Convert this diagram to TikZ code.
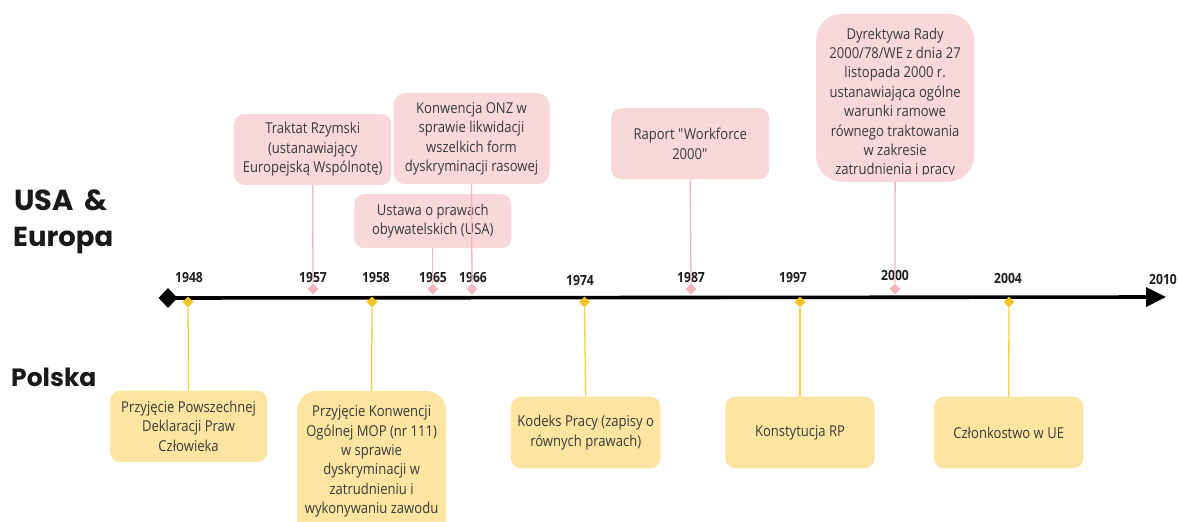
\documentclass[tikz,border=0pt]{standalone}
\usepackage{fontspec}
\setmainfont{Open Sans}[FakeStretch=0.87]
\newfontfamily\headfont{Poppins}
\usetikzlibrary{arrows.meta,shapes.geometric}

\definecolor{pinkfill}{RGB}{248,216,219}
\definecolor{pinkline}{RGB}{242,182,192}
\definecolor{yellowfill}{RGB}{251,229,160}
\definecolor{yellowline}{RGB}{246,208,72}
\definecolor{yellowmark}{RGB}{246,196,40}
\definecolor{boxtext}{RGB}{58,58,58}
\definecolor{yeartext}{RGB}{30,30,30}

\tikzset{
  x=1pt, y=-1pt,
  eventbox/.style={rounded corners=10pt, inner sep=0pt, align=center,
    text=boxtext, font=\fontsize{15}{19.4}\selectfont},
  eubox/.style={eventbox, fill=pinkfill},
  plbox/.style={eventbox, fill=yellowfill},
  eumark/.style={diamond, fill=pinkline, inner sep=0pt, minimum size=11pt},
  plmark/.style={diamond, fill=yellowmark, inner sep=0pt, minimum size=11pt},
  eulink/.style={draw=pinkline, line width=1.3pt},
  pllink/.style={draw=yellowline, line width=1.3pt},
  yearlabel/.style={font=\bfseries\fontsize{14}{16}\selectfont, text=yeartext, inner sep=0pt},
  regionlabel/.style={font=\headfont\bfseries, text=black!90, inner sep=0pt, anchor=base west}
}

\begin{document}
\begin{tikzpicture}
\useasboundingbox (0,0) rectangle (1178,522);
\fill[white] (0,0) rectangle (1178,522);

% region headings
\node[regionlabel, font=\headfont\bfseries\fontsize{29}{31}\selectfont] (usa) at (14,210) {USA\hspace{0.35em}\&};
\node[regionlabel, font=\headfont\bfseries\fontsize{27.5}{31}\selectfont] (eur) at (13,246) {Europa};
\node[regionlabel, font=\headfont\bfseries\fontsize{25}{28}\selectfont] (pol) at (11,386) {Polska};

% main axis
\node[diamond, fill=black, inner sep=0pt, minimum width=19pt, minimum height=20pt] (start) at (168,298) {};
\coordinate (end) at (1166,297);
\draw[line width=3.6pt, -{Triangle[length=20pt,width=19pt]}] (start.center) -- (end);

% year labels
\node[yearlabel] (y1948) at (189,278) {1948};
\node[yearlabel] (y1957) at (313,278) {1957};
\node[yearlabel] (y1958) at (376,278) {1958};
\node[yearlabel] (y1965) at (433,278) {1965};
\node[yearlabel] (y1966) at (473,278) {1966};
\node[yearlabel] (y1974) at (580,281) {1974};
\node[yearlabel] (y1987) at (691,278) {1987};
\node[yearlabel] (y1997) at (793,278) {1997};
\node[yearlabel] (y2000) at (895,275) {2000};
\node[yearlabel] (y2004) at (1008,278) {2004};
\node[yearlabel] (y2010) at (1163,279) {2010};

% markers on the axis
\node[eumark] (m1957) at (313,289) {};
\node[eumark] (m1965) at (432.8,289) {};
\node[eumark] (m1966) at (472,289) {};
\node[eumark] (m1987) at (691,289) {};
\node[eumark] (m2000) at (895,289) {};
\node[plmark] (m1948) at (188,302) {};
\node[plmark] (m1958) at (372,302) {};
\node[plmark] (m1974) at (584.5,302) {};
\node[plmark] (m1997) at (800,302) {};
\node[plmark] (m2004) at (1009,302) {};

% European and US events
\node[eubox, minimum width=157pt, minimum height=71pt] (traktat) at (312.7,149.5)
  {Traktat Rzymski\\(ustanawiający\\Europejską Wspólnotę)};
\node[eubox, minimum width=156pt, minimum height=91pt, rounded corners=12pt] (onz) at (471.5,138.7)
  {Konwencja ONZ w\\sprawie likwidacji\\wszelkich form\\dyskryminacji rasowej};
\node[eubox, minimum width=157pt, minimum height=54pt] (ustawa) at (432.8,221.2)
  {Ustawa o prawach\\obywatelskich (USA)};
\node[eubox, minimum width=158pt, minimum height=71pt] (raport) at (690.2,143.7)
  {Raport \textquotedbl Workforce\\2000\textquotedbl};
\node[eubox, minimum width=158pt, minimum height=168pt, rounded corners=26pt] (dyrektywa) at (895.1,97.8) {};
\begin{scope}
  \clip (816,14) rectangle (975,174.5);
  \node[eventbox, anchor=north] (dyrtext) at (895.1,27.5)
    {Dyrektywa Rady\\2000/78/WE z dnia 27\\listopada 2000 r.\\ustanawiająca ogólne\\warunki ramowe\\równego traktowania\\w zakresie\\zatrudnienia i pracy};
\end{scope}

% Polish events
\node[plbox, minimum width=157pt, minimum height=71.3pt] (deklaracja) at (188.6,426.3)
  {Przyjęcie Powszechnej\\Deklaracji Praw\\Człowieka};
\node[plbox, minimum width=149pt, minimum height=150pt, rounded corners=20pt, anchor=north] (mop) at (371.6,390.7) {};
\node[eventbox, anchor=north] (moptext) at (371.6,405.5)
  {Przyjęcie Konwencji\\Ogólnej MOP (nr 111)\\w sprawie\\dyskryminacji w\\zatrudnieniu i\\wykonywaniu zawodu};
\node[plbox, minimum width=149.4pt, minimum height=71.6pt] (kodeks) at (585.7,432.5)
  {Kodeks Pracy (zapisy o\\równych prawach)};
\node[plbox, minimum width=149.3pt, minimum height=71.6pt] (konst) at (800,432.5)
  {Konstytucja RP};
\node[plbox, minimum width=149.3pt, minimum height=71.6pt] (ue) at (1008.7,432.5)
  {Członkostwo w UE};

% connectors
\draw[eulink] (traktat.south) -- (m1957.north);
\draw[eulink] (ustawa.south) -- (m1965.north);
\draw[eulink] (onz.south) -- (m1966.north);
\draw[eulink] (raport.south) -- (m1987.north);
\draw[eulink] (dyrektywa.south) -- (m2000.north);
\draw[pllink] (m1948.south) -- (deklaracja.north);
\draw[pllink] (m1958.south) -- (mop.north);
\draw[pllink] (m1974.south) -- (kodeks.north);
\draw[pllink] (m1997.south) -- (konst.north);
\draw[pllink] (m2004.south) -- (ue.north);
\end{tikzpicture}
\end{document}
